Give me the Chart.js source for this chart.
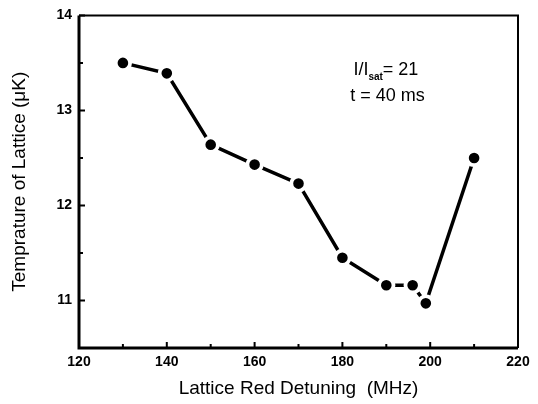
<!DOCTYPE html>
<html>
<head>
<meta charset="utf-8">
<script src="https://cdn.jsdelivr.net/npm/chart.js@4"></script>
<style>
	html, body {margin:0;padding:0;background:#fff}
	#box {width:538px;height:404px}
</style>
</head>
<body>
<div id="box"><canvas id="chart" width="538" height="404"></canvas></div>
<script>
// values
const detuning = [130, 140, 150, 160, 170, 180, 190, 196, 199, 210]
const temperature = [13.50, 13.39, 12.64, 12.43, 12.23, 11.45, 11.16, 11.16, 10.97, 12.50]
const xTicks = [120, 140, 160, 180, 200, 220]
const xMinor = [130, 150, 170, 190, 210]
const yTicks = [11, 12, 13, 14]
const yMinor = [10.5, 11.5, 12.5, 13.5]

const points = []
detuning.forEach(function (d, i) {
	points.push({x: d, y: temperature[i]})
})

// frame + inward ticks + label box
const framePlugin = {
	id: 'frame',
	afterDraw(chart) {
		const ctx = chart.ctx
		const a = chart.chartArea
		const sx = chart.scales.x
		const sy = chart.scales.y
		ctx.save()
		ctx.strokeStyle = '#000'
		ctx.lineWidth = 2
		ctx.beginPath()
		ctx.moveTo(a.left, a.top)
		ctx.lineTo(a.right, a.top)
		ctx.lineTo(a.right, a.bottom)
		ctx.stroke()
		ctx.lineWidth = 3
		ctx.beginPath()
		ctx.moveTo(a.left, a.top)
		ctx.lineTo(a.left, a.bottom)
		ctx.lineTo(a.right, a.bottom)
		ctx.stroke()

		ctx.lineWidth = 2
		ctx.beginPath()
		xTicks.forEach(function (v) {
			const p = sx.getPixelForValue(v)
			ctx.moveTo(p, a.bottom); ctx.lineTo(p, a.bottom - 6)
		})
		xMinor.forEach(function (v) {
			const p = sx.getPixelForValue(v)
			ctx.moveTo(p, a.bottom); ctx.lineTo(p, a.bottom - 4)
		})
		yTicks.forEach(function (v) {
			const p = sy.getPixelForValue(v)
			ctx.moveTo(a.left, p); ctx.lineTo(a.left + 6, p)
		})
		yMinor.forEach(function (v) {
			const p = sy.getPixelForValue(v)
			ctx.moveTo(a.left, p); ctx.lineTo(a.left + 4, p)
		})
		ctx.stroke()

		// I/Isat = 21, t = 40 ms
		ctx.fillStyle = '#000'
		ctx.textBaseline = 'alphabetic'
		ctx.textAlign = 'left'
		const tx = sx.getPixelForValue(182.5)
		const ty = sy.getPixelForValue(13.37)
		ctx.font = '18px "Liberation Sans", Arial'
		ctx.fillText('I/I', tx, ty)
		let w = ctx.measureText('I/I').width
		ctx.font = 'bold 10px "Liberation Sans", Arial'
		ctx.fillText('sat', tx + w, ty + 5)
		w += ctx.measureText('sat').width
		ctx.font = '18px "Liberation Sans", Arial'
		ctx.fillText('= 21', tx + w, ty)
		ctx.fillText('t = 40 ms', sx.getPixelForValue(181.8), sy.getPixelForValue(13.1))
		ctx.restore()
	}
}

const ctx = document.getElementById('chart').getContext('2d')
new Chart(ctx, {
	type: 'line',
	data: {
		datasets: [
			{
				data: points,
				borderColor: '#000',
				borderWidth: 3.5,
				pointRadius: 7.2,
				pointHoverRadius: 7.2,
				pointBackgroundColor: '#000',
				pointBorderColor: '#fff',
				pointBorderWidth: 3.8,
				tension: 0,
			},
		],
	},
	options: {
		responsive: false,
		animation: false,
		events: [],
		layout: {padding: {left: 8, right: 20, top: 14, bottom: 4}},
		plugins: {legend: {display: false}, tooltip: {enabled: false}},
		scales: {
			x: {
				type: 'linear',
				min: 120,
				max: 220,
				afterBuildTicks: function (s) {s.ticks = xTicks.map(v => ({value: v}))},
				afterFit: function (s) {s.height = 52},
				grid: {display: false, drawTicks: false},
				border: {display: false},
				ticks: {color: '#000', padding: 6, font: {family: '"Liberation Sans", Arial', size: 14, weight: 'bold'}},
				title: {display: true, text: 'Lattice Red Detuning  (MHz)', color: '#000', padding: {top: 8, bottom: 0}, font: {family: '"Liberation Sans", Arial', size: 19}},
			},
			y: {
				type: 'linear',
				min: 10.5,
				max: 14,
				afterBuildTicks: function (s) {s.ticks = yTicks.map(v => ({value: v}))},
				afterFit: function (s) {s.width = 71},
				grid: {display: false, drawTicks: false},
				border: {display: false},
				ticks: {color: '#000', padding: 7, font: {family: '"Liberation Sans", Arial', size: 14, weight: 'bold'}},
				title: {display: true, text: 'Temprature of Lattice (\u03bcK)', color: '#000', padding: {top: 0, bottom: 10}, font: {family: '"Liberation Sans", Arial', size: 19}},
			},
		},
	},
	plugins: [framePlugin],
})
</script>
</body>
</html>
